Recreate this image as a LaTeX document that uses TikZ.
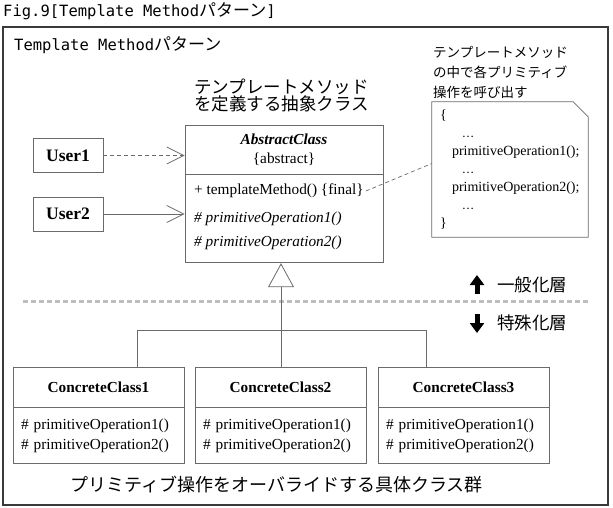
\documentclass[tikz,border=0pt]{standalone}
\usepackage{fontspec}
\setmainfont{Liberation Serif}
\newfontfamily\jpfont{Noto Sans CJK JP}
\newfontfamily\monofont{DejaVu Sans Mono}
\usetikzlibrary{arrows.meta,positioning,calc}
\definecolor{boxgray}{HTML}{6A6A6A}
\definecolor{framegray}{HTML}{3A3A3A}
\definecolor{sepgray}{HTML}{BEBEBE}

\begin{document}
\begin{tikzpicture}[x=1pt,y=-1pt,
  cls/.style={draw=boxgray,line width=0.8pt,minimum width=198pt,inner sep=0pt,
              align=center,font=\fontsize{15.3}{19}\selectfont},
  member/.style={inner sep=2pt,font=\fontsize{15.3}{17}\selectfont},
  user/.style={draw=boxgray,line width=0.8pt,minimum width=70pt,minimum height=34pt,
               font=\fontsize{17.5}{19}\selectfont\bfseries},
  cchead/.style={draw=boxgray,line width=0.8pt,minimum width=171pt,minimum height=40pt,
                 font=\fontsize{15.3}{17}\selectfont\bfseries},
  ccbody/.style={draw=boxgray,line width=0.8pt,minimum height=56pt,text width=155pt,
                 inner xsep=8pt,align=left,font=\fontsize{15.3}{20}\selectfont},
  jptext/.style={inner sep=0pt,font=\jpfont\fontsize{#1}{#1}\selectfont},
  uses/.style={draw=boxgray,line width=0.8pt,
               -{Straight Barb[length=17pt,width=17pt,line width=0.8pt]}},
  gen/.style={draw=boxgray,line width=0.8pt,
              -{Triangle[open,length=24pt,width=26pt,fill=white]}},
  link/.style={draw=boxgray,line width=0.7pt,dash pattern=on 4pt off 3pt},
  layerarrow/.style={line width=5pt,-{Triangle[length=10pt,width=14pt]}}
]
\useasboundingbox (0,0) rectangle (613,507);

% title and frame
\node[anchor=west,inner sep=0pt] (title) at (3,11)
  {\monofont\fontsize{15.5}{17}\selectfont Fig.9[Template Method{\jpfont\fontsize{17}{17}\selectfont パターン}]};
\draw[framegray,line width=1.8pt] (3,27) rectangle (608,505);
\node[anchor=west,inner sep=0pt] (pattern) at (14,45)
  {\monofont\fontsize{15.5}{17}\selectfont Template Method{\jpfont\fontsize{17}{17}\selectfont パターン}};

% abstract class
\node[jptext=17.5,align=center] (abscap) at (281.5,95.5)
  {テンプレートメソッド\\を定義する抽象クラス};
\node[cls,minimum height=49pt] (abshead) at (284,149.5)
  {\textbf{\textit{AbstractClass}}\\\{abstract\}};
\node[cls,minimum height=88pt,anchor=north] (absbody) at (abshead.south) {};
\node[member,anchor=west] (tmpl) at (192,191) {+ templateMethod() \{final\}};
\node[member,anchor=west] (prim1) at (192,219) {\textit{\# primitiveOperation1()}};
\node[member,anchor=west] (prim2) at (192,243) {\textit{\# primitiveOperation2()}};

% clients
\node[user] (user1) at (68,155.5) {User1};
\node[user] (user2) at (68,214) {User2};
\draw[uses,dash pattern=on 4pt off 3pt] (user1.east) -- (user1.east -| abshead.west);
\draw[uses] (user2.east) -- (user2.east -| absbody.west);

% note
\node[jptext=13.5,align=left,anchor=south west] (notecap) at (433,99)
  {テンプレートメソッド\\[6.5pt]の中で各プリミティブ\\[6.5pt]操作を呼び出す};
\node[text width=140pt,inner xsep=8pt,inner ysep=0pt,minimum height=135pt,align=left,
      font=\fontsize{14}{18}\selectfont] (note) at (510,169.5)
  {\{\\
   \hspace*{22pt}{\jpfont\fontsize{11}{11}\selectfont …}\\
   \hspace*{12pt}primitiveOperation1();\\
   \hspace*{22pt}{\jpfont\fontsize{11}{11}\selectfont …}\\
   \hspace*{12pt}primitiveOperation2();\\
   \hspace*{22pt}{\jpfont\fontsize{11}{11}\selectfont …}\\
   \}};
\draw[draw=boxgray,line width=0.8pt] (note.north west) -- ([xshift=-15pt]note.north east)
  -- ([yshift=-15pt]note.north east) -- (note.south east) -- (note.south west) -- cycle;
\draw[link] (tmpl.east) -- ([yshift=6pt]note.west);

% layers
\draw[sepgray,line width=3pt,dash pattern=on 5pt off 3pt] (23,301) -- (588,301);
\coordinate (upa) at (477,294);
\coordinate (upb) at (477,275);
\coordinate (downa) at (477,314);
\coordinate (downb) at (477,333);
\draw[layerarrow] (upa) -- (upb);
\draw[layerarrow] (downa) -- (downb);
\node[jptext=17.5,anchor=west] (general) at (497,285) {一般化層};
\node[jptext=17.5,anchor=west] (special) at (497,323) {特殊化層};

% concrete classes
\foreach \i/\cx in {1/98.5,2/280.5,3/463.5}{
  \node[cchead] (cc\i) at (\cx,387) {ConcreteClass\i};
  \node[ccbody,anchor=north] (ccb\i) at (cc\i.south)
    {\# primitiveOperation1()\\\# primitiveOperation2()};
}
\coordinate (join) at (281,330);
\coordinate (join1) at (137,330);
\coordinate (join3) at (426,330);
\draw[gen] (join) -- (join |- absbody.south);
\draw[draw=boxgray,line width=0.8pt] (join1 |- cc1.north) -- (join1) -- (join3) -- (join3 |- cc3.north);
\draw[draw=boxgray,line width=0.8pt] (join) -- (join |- cc2.north);
\node[jptext=18] (cccap) at (276.5,485) {プリミティブ操作をオーバライドする具体クラス群};
\end{tikzpicture}
\end{document}
